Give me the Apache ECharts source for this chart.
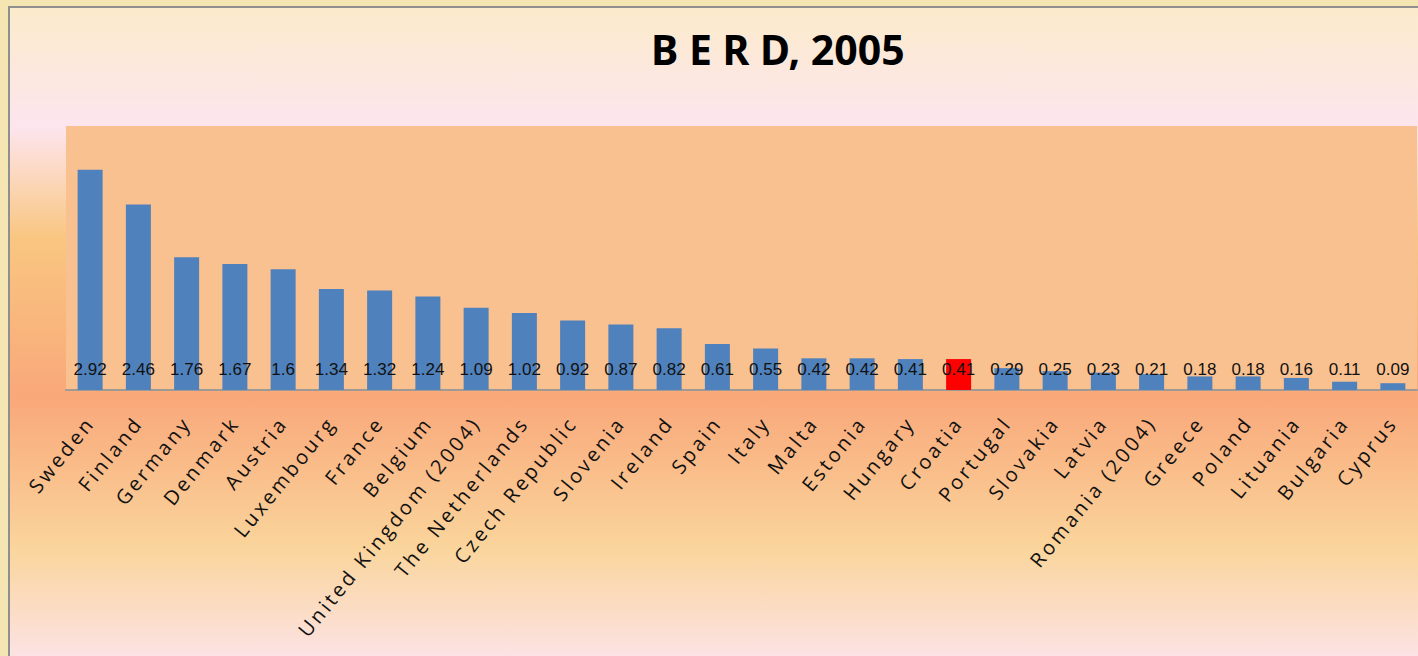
<!DOCTYPE html>
<html>
<head>
<meta charset="utf-8">
<title>BERD, 2005</title>
<script src="https://cdn.jsdelivr.net/npm/echarts@6/dist/echarts.min.js"></script>
<style>
  html, body { margin: 0; padding: 0; background: #f4e5b3; overflow: hidden; }
  #frame {
    position: absolute; left: 8px; top: 6px; width: 1420px; height: 660px;
    border-left: 2px solid #8f8f8f; border-top: 2px solid #8f8f8f;
    background: linear-gradient(to bottom,
      #fbebcb 0%, #fde5ee 18%, #f9c680 35%, #f9a87a 59%, #fad59c 82%, #fce4ec 100%);
  }
  #chart { position: absolute; left: 0; top: 0; width: 1418px; height: 656px; }
  /* the country names are drawn with wide tracking in the original */
  #chart text[style*="Open Sans"] { letter-spacing: 3px; }
</style>
</head>
<body>
<div id="frame"></div>
<div id="chart"></div>
<script>
// country list, largest to smallest
const countries = [
  'Sweden', 'Finland', 'Germany', 'Denmark', 'Austria', 'Luxembourg', 'France',
  'Belgium', 'United Kingdom (2004)', 'The Netherlands', 'Czech Republic',
  'Slovenia', 'Ireland', 'Spain', 'Italy', 'Malta', 'Estonia', 'Hungary',
  'Croatia', 'Portugal', 'Slovakia', 'Latvia', 'Romania (2004)', 'Greece',
  'Poland', 'Lituania', 'Bulgaria', 'Cyprus'
]
// BERD as % of GDP
const berd = [
  2.92, 2.46, 1.76, 1.67, 1.6, 1.34, 1.32, 1.24, 1.09, 1.02, 0.92, 0.87, 0.82,
  0.61, 0.55, 0.42, 0.42, 0.41, 0.41, 0.29, 0.25, 0.23, 0.21, 0.18, 0.18, 0.16,
  0.11, 0.09
]
const highlight = 'Croatia'

const chart = echarts.init(document.getElementById('chart'), null, { renderer: 'svg' })

const option = {
  backgroundColor: 'transparent',
  animation: false,
  title: {
    text: 'B E R D, 2005',
    left: 646,
    top: 23,
    textStyle: {
      fontFamily: 'Noto Sans',
      fontWeight: 'bold',
      fontSize: 41,
      color: '#000'
    }
  },
  grid: {
    left: 66,
    right: 1,
    top: 126,
    bottom: 266,
    show: true,
    backgroundColor: '#f9c190',
    borderWidth: 0
  },
  xAxis: {
    type: 'category',
    data: countries,
    axisLine: { lineStyle: { color: '#a09a94', width: 2 } },
    axisTick: { show: false },
    axisLabel: {
      interval: 0,
      rotate: 51,
      margin: 29,
      fontFamily: 'Open Sans',
      fontSize: 20,
      color: '#111'
    }
  },
  yAxis: {
    type: 'value',
    min: 0,
    max: 3.5,
    show: false
  },
  series: [
    {
      type: 'bar',
      barWidth: 25,
      data: berd.map((v, i) => ({
        value: v,
        itemStyle: { color: countries[i] === highlight ? '#ff0000' : '#4f81bd' }
      })),
      label: {
        show: true,
        position: 'insideBottom',
        distance: 12,
        fontFamily: 'Liberation Sans',
        fontSize: 17,
        color: '#111'
      }
    }
  ]
}

chart.setOption(option)
</script>
</body>
</html>
